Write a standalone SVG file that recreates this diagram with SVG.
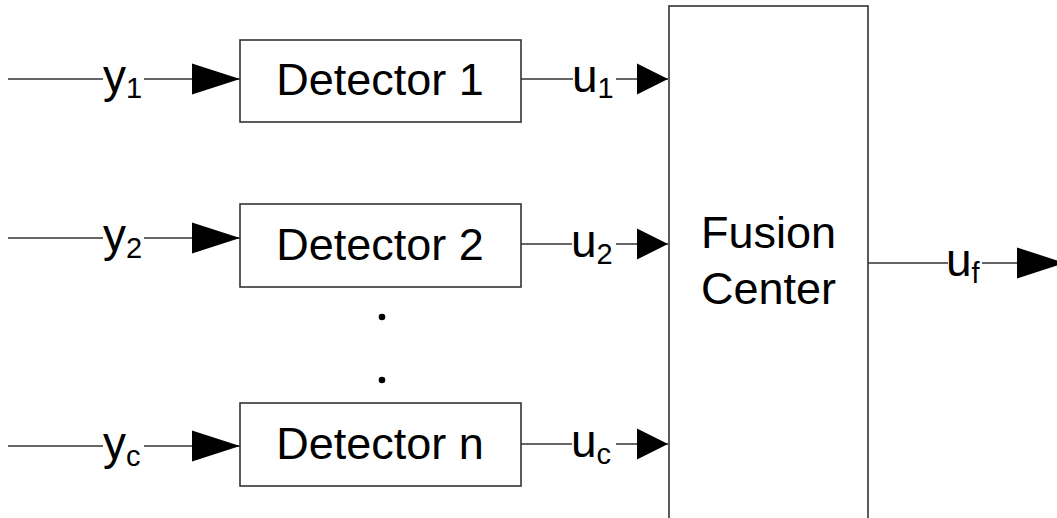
<svg xmlns="http://www.w3.org/2000/svg" width="1057" height="518" viewBox="0 0 1057 518">
<style>
.box{fill:#fff;stroke:#333;stroke-width:1.6}
.ln{fill:none;stroke:#333;stroke-width:1.5}
.t{font-family:"Liberation Sans",Arial,sans-serif;fill:#000}
.big{font-size:45px}
.sub{font-size:29px}
.lab{font-size:46px}
</style>
<defs>
<marker id="ahL" markerUnits="userSpaceOnUse" markerWidth="48" markerHeight="32" viewBox="0 0 48 32" refX="48" refY="16" orient="auto"><path d="M0,0.5 L48,16 L0,31.5 Z" fill="#000"/></marker>
<marker id="ahS" markerUnits="userSpaceOnUse" markerWidth="31" markerHeight="32" viewBox="0 0 31 32" refX="31" refY="16" orient="auto"><path d="M0,0.5 L31,16 L0,31.5 Z" fill="#000"/></marker>
</defs>
<rect width="1057" height="518" fill="#fff"/>
<g id="connectors">
<line class="ln" x1="8" y1="79" x2="103" y2="79"/>
<line class="ln" x1="144" y1="79" x2="240" y2="79" marker-end="url(#ahL)"/>
<line class="ln" x1="8" y1="238" x2="103" y2="238"/>
<line class="ln" x1="144" y1="238" x2="240" y2="238" marker-end="url(#ahL)"/>
<line class="ln" x1="8" y1="446" x2="103" y2="446"/>
<line class="ln" x1="144" y1="446" x2="240" y2="446" marker-end="url(#ahL)"/>
<line class="ln" x1="521" y1="79" x2="573" y2="79"/>
<line class="ln" x1="616" y1="79" x2="668" y2="79" marker-end="url(#ahS)"/>
<line class="ln" x1="521" y1="244" x2="572" y2="244"/>
<line class="ln" x1="616" y1="244" x2="668" y2="244" marker-end="url(#ahS)"/>
<line class="ln" x1="521" y1="444" x2="572" y2="444"/>
<line class="ln" x1="616" y1="444" x2="668" y2="444" marker-end="url(#ahS)"/>
<line class="ln" x1="868" y1="263" x2="948" y2="263"/>
<line class="ln" x1="982" y1="263" x2="1065" y2="263" marker-end="url(#ahL)"/>
</g>
<g id="labels">
<text class="t lab" x="103" y="92">y<tspan class="sub" dy="6">1</tspan></text>
<text class="t lab" x="103" y="251">y<tspan class="sub" dy="7">2</tspan></text>
<text class="t lab" x="103" y="459">y<tspan class="sub" dy="7">c</tspan></text>
<text class="t lab" x="572" y="92">u<tspan class="sub" dy="6">1</tspan></text>
<text class="t lab" x="571" y="257">u<tspan class="sub" dy="7">2</tspan></text>
<text class="t lab" x="571" y="457">u<tspan class="sub" dy="7">c</tspan></text>
<text class="t lab" x="946" y="276">u<tspan class="sub" dy="7">f</tspan></text>
</g>
<g id="detector1">
<rect class="box" x="240" y="40" width="281" height="82"/>
<text class="t big" x="380" y="95" text-anchor="middle">Detector 1</text>
</g>
<g id="detector2">
<rect class="box" x="240" y="204" width="281" height="83"/>
<text class="t big" x="380" y="260" text-anchor="middle">Detector 2</text>
</g>
<g id="detectorn">
<rect class="box" x="240" y="403" width="281" height="83"/>
<text class="t big" x="380" y="459" text-anchor="middle">Detector n</text>
</g>
<g id="ellipsis">
<circle cx="382" cy="317" r="3.3" fill="#000"/>
<circle cx="382" cy="380" r="3.3" fill="#000"/>
</g>
<g id="fusion">
<rect class="box" x="669" y="6" width="199" height="530"/>
<text class="t big" x="768.5" y="248" text-anchor="middle">Fusion</text>
<text class="t big" x="768.5" y="304" text-anchor="middle">Center</text>
</g>
</svg>
